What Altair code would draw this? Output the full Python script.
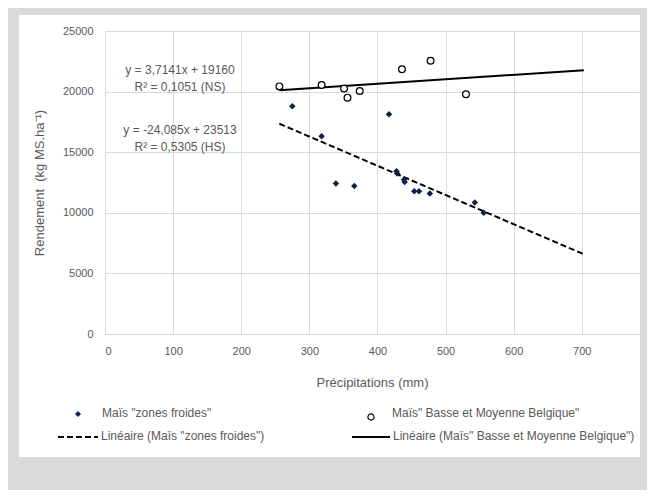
import altair as alt
import pandas as pd

# ---- data ----
froides_x = [275, 318, 339, 366, 417, 428, 429, 439, 440, 454, 461, 477, 543, 556]
froides_y = [18790, 16310, 12420, 12220, 18130, 13430, 13250, 12750, 12550, 11780, 11780, 11590, 10850, 10000]

belg_x = [256, 318, 351, 356, 374, 436, 478, 530]
belg_y = [20430, 20540, 20250, 19500, 20050, 21840, 22550, 19780]

trend_froides_x = [256, 703]
trend_froides_y = [17350, 6580]
trend_belg_x = [256, 703]
trend_belg_y = [20110, 21770]

equations = ["y = 3,7141x + 19160", "R² = 0,1051 (NS)", "y = -24,085x + 23513", "R² = 0,5305 (HS)"]
legend_labels = ['Maïs "zones froides"', 'Maïs" Basse et Moyenne Belgique"',
                 'Linéaire (Maïs "zones froides")', 'Linéaire (Maïs" Basse et Moyenne Belgique")']
x_title = "Précipitations (mm)"
y_title = "Rendement\u00a0 (kg MS.ha⁻¹)"

FONT = "Liberation Sans"
TXT = "#595959"
GRID = "#d9d9d9"
BG = "#d9d9d9"

df_f = pd.DataFrame({"x": froides_x, "y": froides_y})
df_b = pd.DataFrame({"x": belg_x, "y": belg_y})
df_tf = pd.DataFrame({"x": trend_froides_x, "y": trend_froides_y})
df_tb = pd.DataFrame({"x": trend_belg_x, "y": trend_belg_y})
one = pd.DataFrame({"a": [0]})

xscale = alt.Scale(domain=[0, 784], nice=False)
yscale = alt.Scale(domain=[0, 25000], nice=False)

xaxis = alt.Axis(values=[0, 100, 200, 300, 400, 500, 600, 700], grid=True, gridColor=GRID,
                 domainColor=GRID, ticks=False, labelPadding=11, labelFontSize=11,
                 labelColor=TXT, labelFont=FONT, title=x_title, titleFont=FONT,
                 titleFontSize=13, titleFontWeight="normal", titleColor=TXT,
                 titleY=48, titleBaseline="middle")
yaxis = alt.Axis(values=[0, 5000, 10000, 15000, 20000, 25000], format="d", grid=True,
                 gridColor=GRID, domainColor=GRID, ticks=False, labelPadding=12,
                 labelFontSize=11, labelColor=TXT, labelFont=FONT, title=y_title,
                 titleFont=FONT, titleFontSize=13, titleFontWeight="normal",
                 titleColor=TXT, titleX=-59)

axes_layer = alt.Chart(df_f).mark_point(opacity=0).encode(
    x=alt.X("x:Q", scale=xscale, axis=xaxis),
    y=alt.Y("y:Q", scale=yscale, axis=yaxis))

line_b = alt.Chart(df_tb).mark_line(color="black", strokeWidth=2).encode(
    x=alt.X("x:Q", scale=xscale), y=alt.Y("y:Q", scale=yscale))
line_f = alt.Chart(df_tf).mark_line(color="black", strokeWidth=2, strokeDash=[6, 3]).encode(
    x=alt.X("x:Q", scale=xscale), y=alt.Y("y:Q", scale=yscale))

pts_f = alt.Chart(df_f).mark_point(shape="diamond", filled=True, size=42, color="#0f1f45",
                                   opacity=1).encode(
    x=alt.X("x:Q", scale=xscale), y=alt.Y("y:Q", scale=yscale))
pts_b = alt.Chart(df_b).mark_point(shape="circle", filled=True, fill="white", stroke="black",
                                   strokeWidth=1.2, size=46, opacity=1).encode(
    x=alt.X("x:Q", scale=xscale), y=alt.Y("y:Q", scale=yscale))

def txt(s, x, y, align="center", size=12):
    return alt.Chart(pd.DataFrame({"t": [s]})).mark_text(
        font=FONT, fontSize=size, color=TXT, align=align, baseline="middle").encode(
        text="t:N", x=alt.value(x), y=alt.value(y))

eq_layers = [txt(equations[0], 75, 39), txt(equations[1], 75, 56),
             txt(equations[2], 75, 99), txt(equations[3], 75, 116)]

leg_pts = [
    alt.Chart(one).mark_point(shape="diamond", filled=True, size=36, color="#0f1f45", opacity=1).encode(
        x=alt.value(-27), y=alt.value(383)),
    alt.Chart(one).mark_point(shape="circle", filled=True, fill="white", stroke="black",
                              strokeWidth=1.2, size=38, opacity=1).encode(
        x=alt.value(266), y=alt.value(386)),
    alt.Chart(one).mark_rule(color="black", strokeWidth=2, strokeDash=[6, 3]).encode(
        x=alt.value(-47), x2=alt.value(-7), y=alt.value(406)),
    alt.Chart(one).mark_rule(color="black", strokeWidth=2).encode(
        x=alt.value(247), x2=alt.value(285), y=alt.value(406)),
]
leg_txt = [txt(legend_labels[0], -3, 382, "left"), txt(legend_labels[1], 287, 382, "left"),
           txt(legend_labels[2], -4, 405, "left"), txt(legend_labels[3], 288, 405, "left")]

# grey frame around the white panel (page margins of the original screenshot)
def grey(x1, x2, y1, y2):
    return alt.Chart(one).mark_rect(color=BG).encode(
        x=alt.value(x1), x2=alt.value(x2), y=alt.value(y1), y2=alt.value(y2))

frame = [grey(-97, -86, -23, 459), grey(535, 542, -23, 459),
         grey(-97, 542, -23, -16), grey(-97, 542, 426, 459)]

chart = alt.layer(axes_layer, line_b, line_f, pts_f, pts_b, *eq_layers, *leg_pts, *leg_txt, *frame).properties(
    width=534, height=303,
    autosize=alt.AutoSizeParams(type="none"),
    padding={"left": 97, "top": 23, "right": 8, "bottom": 156},
    background="white",
).configure_view(stroke=None)

chart.save("out.html", embed_options={"renderer": "svg", "actions": False})
